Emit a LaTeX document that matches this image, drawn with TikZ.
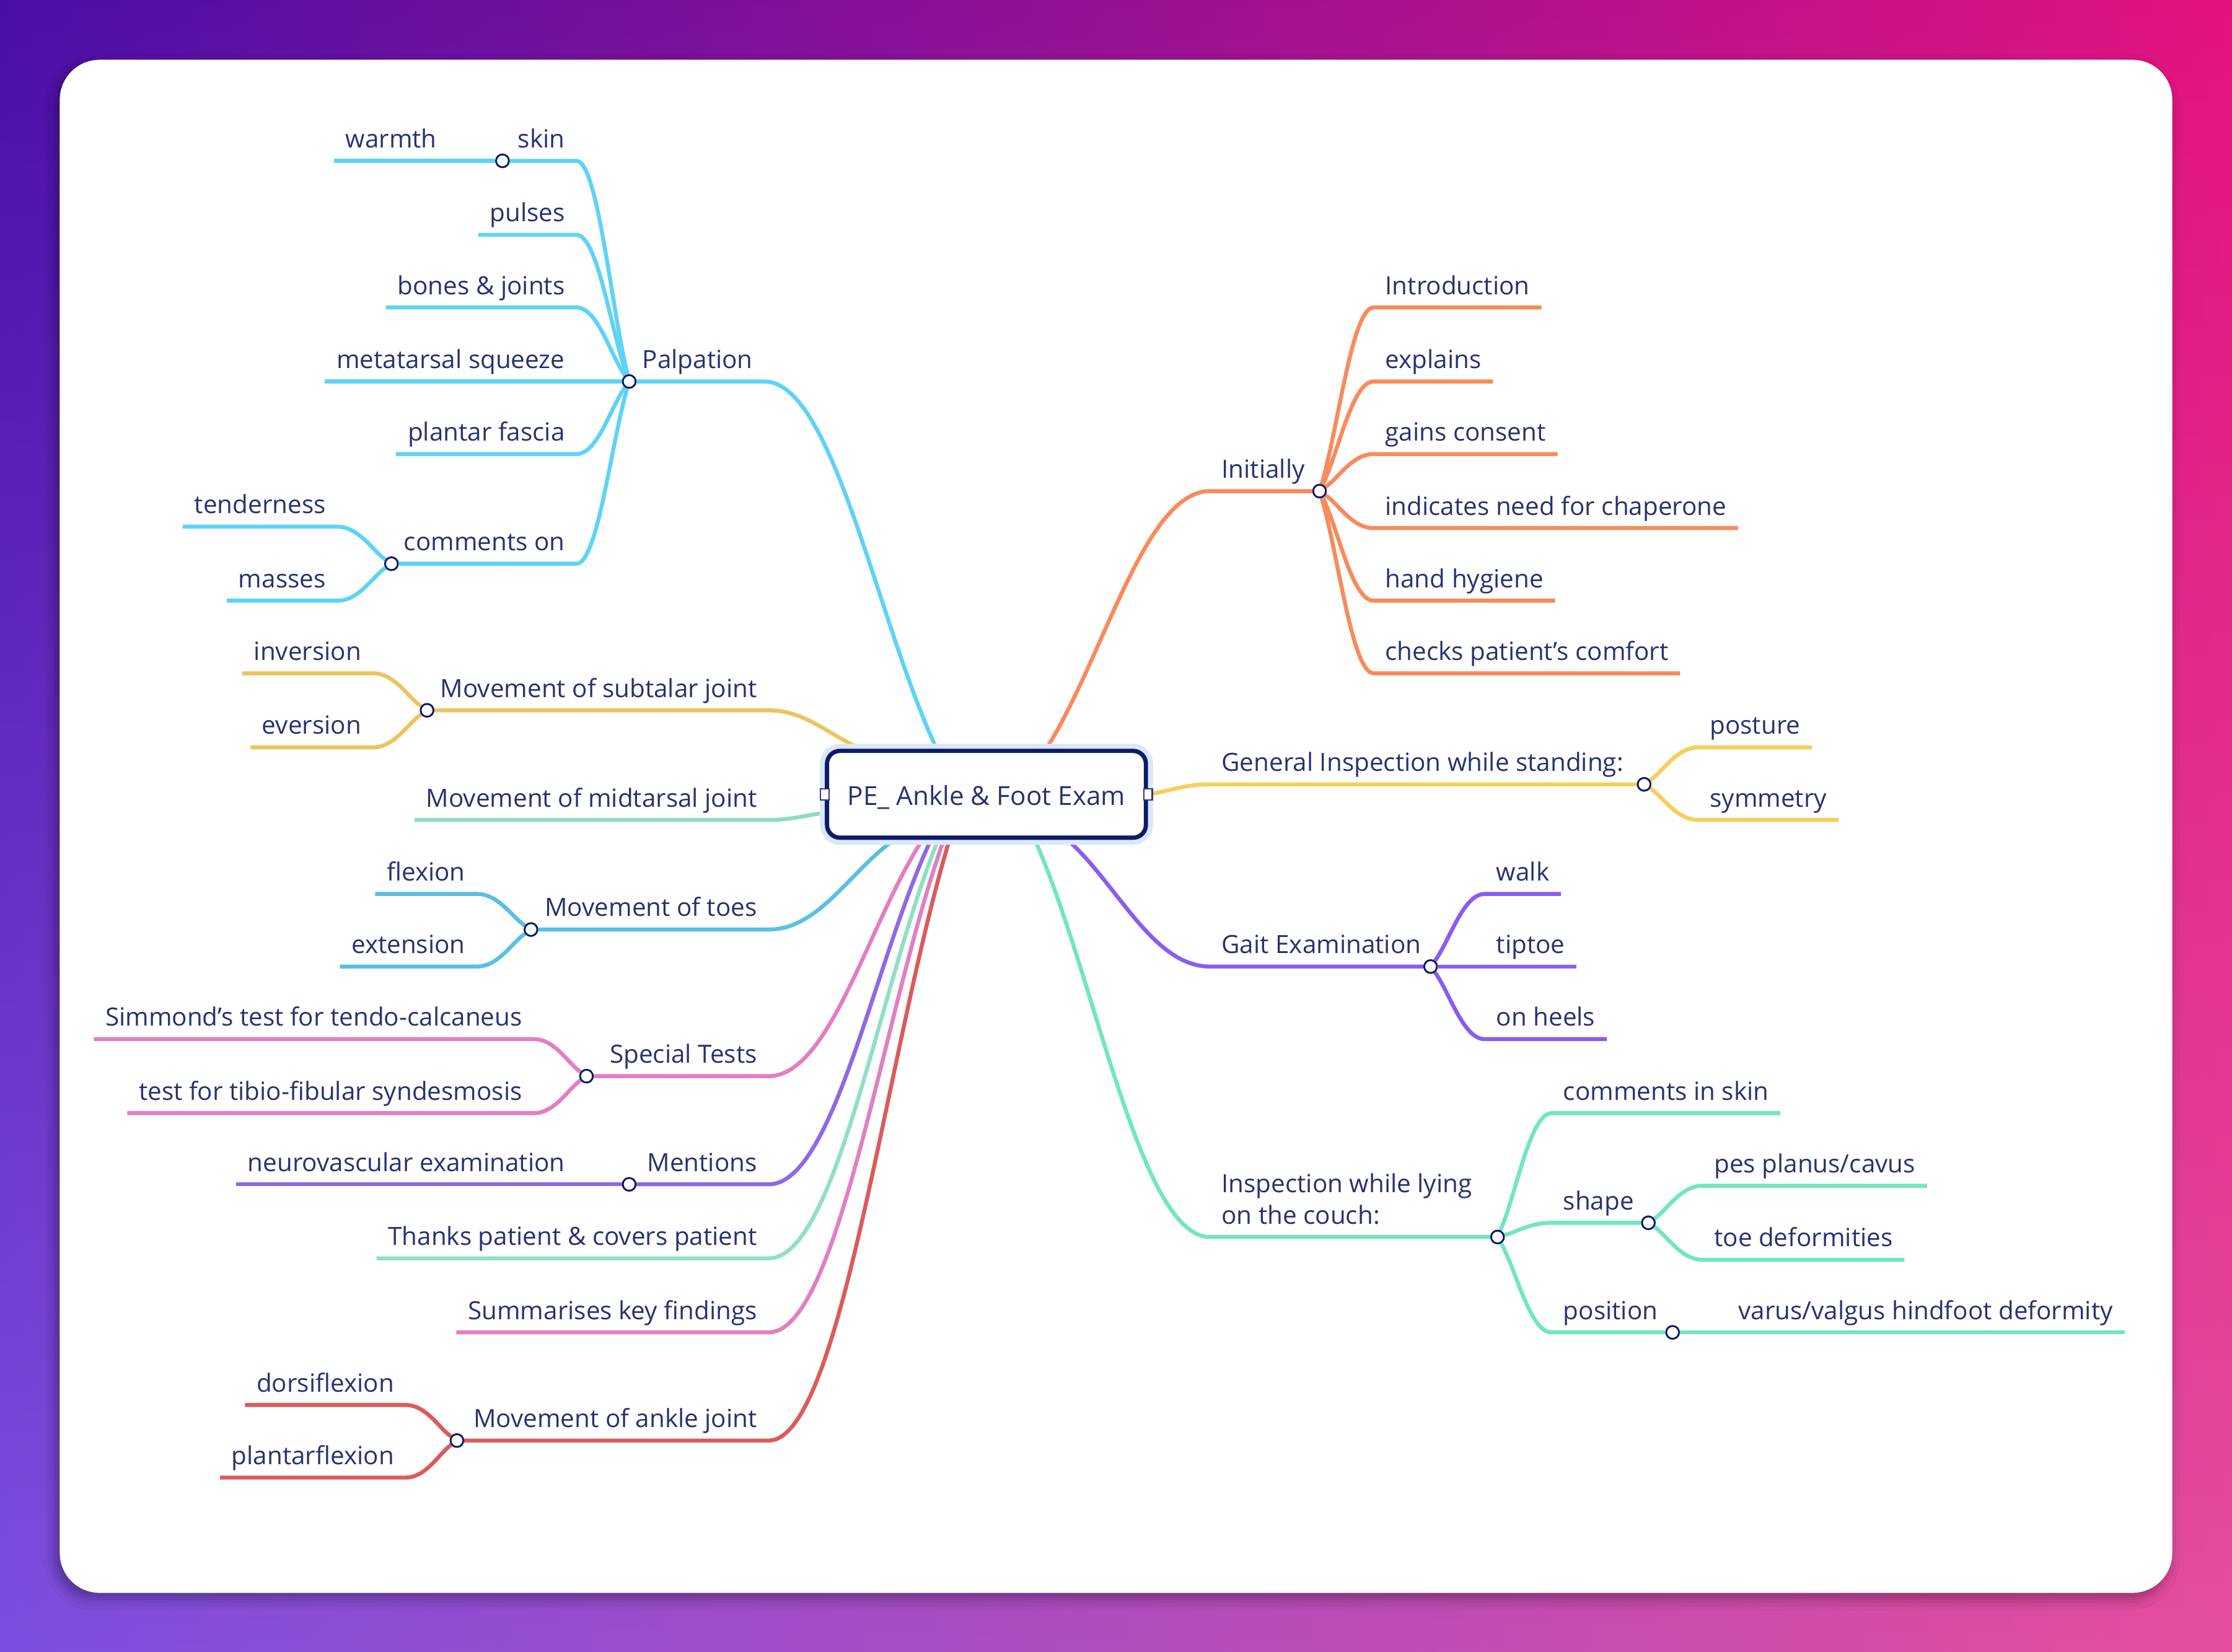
\documentclass[tikz,border=0pt]{standalone}
\usepackage{fontspec}
\newfontfamily\mapfont{Open Sans}
\usetikzlibrary{calc,shadings,shadows.blur}
\pgfdeclarelayer{back}
\pgfdeclarelayer{lines}
\pgfsetlayers{back,lines,main}
\definecolor{ink}{HTML}{28326F}
\definecolor{navy}{HTML}{0E1B68}
\definecolor{halo}{HTML}{DCE8FA}
\definecolor{bgA}{HTML}{4A0EA6}
\definecolor{bgB}{HTML}{E3127F}
\definecolor{bgC}{HTML}{7C4FE0}
\definecolor{bgD}{HTML}{E54D9C}
\definecolor{orangeC}{HTML}{F98A5C}
\definecolor{yellowC}{HTML}{F4CF5B}
\definecolor{purpleC}{HTML}{8A5CF2}
\definecolor{mintC}{HTML}{72E6C0}
\definecolor{cyanC}{HTML}{5ED3F6}
\definecolor{goldC}{HTML}{EAC661}
\definecolor{sageC}{HTML}{8DDCBE}
\definecolor{blueC}{HTML}{5BC0E1}
\definecolor{pinkC}{HTML}{E27FC2}
\definecolor{violetC}{HTML}{9068E6}
\definecolor{thanksC}{HTML}{8FE0C4}
\definecolor{redC}{HTML}{DB5B5B}

\begin{document}
\begin{tikzpicture}[x=1pt, y=-1pt,
	topic/.style={inner xsep=8pt, inner ysep=0pt, text height=13pt, text depth=9pt, font=\mapfont\fontsize{17.6}{22}\selectfont, text=ink},
	lf/.style={topic, anchor=south west},
	rt/.style={topic, anchor=south east},
	dot/.style={circle, draw=navy, fill=white, line width=1.3pt, minimum size=9pt, inner sep=0pt},
	port/.style={rectangle, draw=navy!70!gray, fill=white, line width=1pt, minimum width=6pt, minimum height=8pt, inner sep=0pt},
	br/.style={line width=2.8pt, line join=round},
	curvy/.style={to path={.. controls ($(\tikztostart)!0.35!(\tikztotarget)$) and ($(\tikztotarget)!0.4!(\tikztotarget -| \tikztostart)$) .. (\tikztotarget) \tikztonodes}}]
	\useasboundingbox (0, 0) rectangle (1568, 1160.5);
	\begin{pgfonlayer}{back}
		\shade[upper left=bgA, upper right=bgB, lower left=bgC, lower right=bgD] (0, 0) rectangle (1568, 1160.5);
		\fill[white, rounded corners=28pt, blur shadow={shadow xshift=-3pt, shadow yshift=-4pt, shadow blur radius=8pt, shadow opacity=35}] (42, 42) rectangle (1526, 1119);
	\end{pgfonlayer}

	\node[draw=navy, line width=3pt, rounded corners=9pt, fill=white, preaction={draw=halo, line width=10pt}, minimum width=224pt, minimum height=61pt, text height=19pt, text depth=4pt, font=\mapfont\fontsize{18.4}{22}\selectfont, text=ink] (pe)at(693, 558) {PE\_ Ankle \& Foot Exam};
	\node[port] (peW)at(pe.west) {};
	\node[port] (peE)at(pe.east) {};
	\coordinate (pIni)at([xshift=42pt]pe.north);
	\coordinate (pGait)at([xshift=57pt]pe.south);
	\coordinate (pLying)at([xshift=34pt]pe.south);
	\coordinate (pPalp)at([xshift=-35pt]pe.north);
	\coordinate (pSub)at([xshift=-88pt]pe.north);
	\coordinate (pMid)at([yshift=-13pt]pe.west);
	\coordinate (pToes)at([xshift=-65pt]pe.south);
	\coordinate (pSpec)at([xshift=-45pt]pe.south);
	\coordinate (pMent)at([xshift=-39pt]pe.south);
	\coordinate (pThx)at([xshift=-34pt]pe.south);
	\coordinate (pSumm)at([xshift=-30pt]pe.south);
	\coordinate (pAnkle)at([xshift=-26pt]pe.south);

	\node[lf] (ini)at(850, 345) {Initially};
	\node[dot] (iniDot)at(927, 345) {};
	\node[lf] (intro)at(965, 216) {Introduction};
	\node[lf] (expl)at(965, 268) {explains};
	\node[lf] (cons)at(965, 319) {gains consent};
	\node[lf] (chap)at(965, 371) {indicates need for chaperone};
	\node[lf] (hyg)at(965, 422) {hand hygiene};
	\node[lf] (comf)at(965, 473) {checks patient’s comfort};

	\node[lf] (gen)at(850, 551) {General Inspection while standing:};
	\node[dot] (genDot)at(1155, 551) {};
	\node[lf] (post)at(1193, 525) {posture};
	\node[lf] (symm)at(1193, 576) {symmetry};

	\node[lf] (gait)at(850, 679) {Gait Examination};
	\node[dot] (gaitDot)at(1005, 679) {};
	\node[lf] (walk)at(1043, 628) {walk};
	\node[lf] (tipt)at(1043, 679) {tiptoe};
	\node[lf] (heel)at(1043, 730) {on heels};

	\node[lf] (lying)at(850, 869) {\begin{tabular}[b]{@{}l@{}}Inspection while lying\\on the couch:\end{tabular}};
	\node[dot] (lyingDot)at(1052, 869) {};
	\node[lf] (cskin)at(1090, 782) {comments in skin};
	\node[lf] (shape)at(1090, 859) {shape};
	\node[dot] (shapeDot)at(1158, 859) {};
	\node[lf] (pes)at(1196, 833) {pes planus/cavus};
	\node[lf] (toed)at(1196, 885) {toe deformities};
	\node[lf] (posn)at(1090, 936) {position};
	\node[dot] (posnDot)at(1175, 936) {};
	\node[lf] (varus)at(1213, 936) {varus/valgus hindfoot deformity};

	\node[rt] (palp)at(537, 268) {Palpation};
	\node[dot] (palpDot)at(442, 268) {};
	\node[rt] (skin)at(405, 113) {skin};
	\node[dot] (skinDot)at(353, 113) {};
	\node[rt] (warm)at(315, 113) {warmth};
	\node[rt] (puls)at(405, 165) {pulses};
	\node[rt] (bone)at(405, 216) {bones \& joints};
	\node[rt] (meta)at(405, 268) {metatarsal squeeze};
	\node[rt] (fasc)at(405, 319) {plantar fascia};
	\node[rt] (comm)at(405, 396) {comments on};
	\node[dot] (commDot)at(275, 396) {};
	\node[rt] (tend)at(237, 370) {tenderness};
	\node[rt] (mass)at(237, 422) {masses};

	\node[rt] (sub)at(540, 499) {Movement of subtalar joint};
	\node[dot] (subDot)at(300, 499) {};
	\node[rt] (inv)at(262, 473) {inversion};
	\node[rt] (ever)at(262, 525) {eversion};

	\node[rt] (mid)at(540, 576) {Movement of midtarsal joint};

	\node[rt] (toes)at(540, 653) {Movement of toes};
	\node[dot] (toesDot)at(373, 653) {};
	\node[rt] (flex)at(335, 628) {flexion};
	\node[rt] (ext)at(335, 679) {extension};

	\node[rt] (spec)at(540, 756) {Special Tests};
	\node[dot] (specDot)at(412, 756) {};
	\node[rt] (simm)at(375, 730) {Simmond’s test for tendo-calcaneus};
	\node[rt] (tibf)at(375, 782) {test for tibio-fibular syndesmosis};

	\node[rt] (ment)at(540, 832) {Mentions};
	\node[dot] (mentDot)at(442, 832) {};
	\node[rt] (neuro)at(405, 832) {neurovascular examination};

	\node[rt] (thx)at(540, 884) {Thanks patient \& covers patient};
	\node[rt] (summ)at(540, 936) {Summarises key findings};

	\node[rt] (ankle)at(540, 1012) {Movement of ankle joint};
	\node[dot] (ankleDot)at(321, 1012) {};
	\node[rt] (dors)at(285, 987) {dorsiflexion};
	\node[rt] (plan)at(285, 1038) {plantarflexion};

	\begin{pgfonlayer}{lines}
		\draw[br, orangeC] (pIni) to[curvy] (ini.south west) -- (iniDot);
		\draw[br, orangeC] (iniDot) to[curvy] (intro.south west) -- (intro.south east);
		\draw[br, orangeC] (iniDot) to[curvy] (expl.south west) -- (expl.south east);
		\draw[br, orangeC] (iniDot) to[curvy] (cons.south west) -- (cons.south east);
		\draw[br, orangeC] (iniDot) to[curvy] (chap.south west) -- (chap.south east);
		\draw[br, orangeC] (iniDot) to[curvy] (hyg.south west) -- (hyg.south east);
		\draw[br, orangeC] (iniDot) to[curvy] (comf.south west) -- (comf.south east);

		\draw[br, yellowC] (peE) to[curvy] (gen.south west) -- (genDot);
		\draw[br, yellowC] (genDot) to[curvy] (post.south west) -- (post.south east);
		\draw[br, yellowC] (genDot) to[curvy] (symm.south west) -- (symm.south east);

		\draw[br, purpleC] (pGait) to[curvy] (gait.south west) -- (gaitDot);
		\draw[br, purpleC] (gaitDot) to[curvy] (walk.south west) -- (walk.south east);
		\draw[br, purpleC] (gaitDot) to[curvy] (tipt.south west) -- (tipt.south east);
		\draw[br, purpleC] (gaitDot) to[curvy] (heel.south west) -- (heel.south east);

		\draw[br, mintC] (pLying) to[curvy] (lying.south west) -- (lyingDot);
		\draw[br, mintC] (lyingDot) to[curvy] (cskin.south west) -- (cskin.south east);
		\draw[br, mintC] (lyingDot) to[curvy] (shape.south west) -- (shapeDot);
		\draw[br, mintC] (shapeDot) to[curvy] (pes.south west) -- (pes.south east);
		\draw[br, mintC] (shapeDot) to[curvy] (toed.south west) -- (toed.south east);
		\draw[br, mintC] (lyingDot) to[curvy] (posn.south west) -- (posnDot);
		\draw[br, mintC] (posnDot) to[curvy] (varus.south west) -- (varus.south east);

		\draw[br, cyanC] (pPalp) to[curvy] (palp.south east) -- (palpDot);
		\draw[br, cyanC] (palpDot) to[curvy] (skin.south east) -- (skinDot);
		\draw[br, cyanC] (skinDot) to[curvy] (warm.south east) -- (warm.south west);
		\draw[br, cyanC] (palpDot) to[curvy] (puls.south east) -- (puls.south west);
		\draw[br, cyanC] (palpDot) to[curvy] (bone.south east) -- (bone.south west);
		\draw[br, cyanC] (palpDot) to[curvy] (meta.south east) -- (meta.south west);
		\draw[br, cyanC] (palpDot) to[curvy] (fasc.south east) -- (fasc.south west);
		\draw[br, cyanC] (palpDot) to[curvy] (comm.south east) -- (commDot);
		\draw[br, cyanC] (commDot) to[curvy] (tend.south east) -- (tend.south west);
		\draw[br, cyanC] (commDot) to[curvy] (mass.south east) -- (mass.south west);

		\draw[br, goldC] (pSub) to[curvy] (sub.south east) -- (subDot);
		\draw[br, goldC] (subDot) to[curvy] (inv.south east) -- (inv.south west);
		\draw[br, goldC] (subDot) to[curvy] (ever.south east) -- (ever.south west);

		\draw[br, sageC] (pMid) to[curvy] (mid.south east) -- (mid.south west);

		\draw[br, blueC] (pToes) to[curvy] (toes.south east) -- (toesDot);
		\draw[br, blueC] (toesDot) to[curvy] (flex.south east) -- (flex.south west);
		\draw[br, blueC] (toesDot) to[curvy] (ext.south east) -- (ext.south west);

		\draw[br, pinkC] (pSpec) to[curvy] (spec.south east) -- (specDot);
		\draw[br, pinkC] (specDot) to[curvy] (simm.south east) -- (simm.south west);
		\draw[br, pinkC] (specDot) to[curvy] (tibf.south east) -- (tibf.south west);

		\draw[br, violetC] (pMent) to[curvy] (ment.south east) -- (mentDot);
		\draw[br, violetC] (mentDot) to[curvy] (neuro.south east) -- (neuro.south west);

		\draw[br, thanksC] (pThx) to[curvy] (thx.south east) -- (thx.south west);
		\draw[br, pinkC] (pSumm) to[curvy] (summ.south east) -- (summ.south west);

		\draw[br, redC] (pAnkle) to[curvy] (ankle.south east) -- (ankleDot);
		\draw[br, redC] (ankleDot) to[curvy] (dors.south east) -- (dors.south west);
		\draw[br, redC] (ankleDot) to[curvy] (plan.south east) -- (plan.south west);
	\end{pgfonlayer}
\end{tikzpicture}
\end{document}
